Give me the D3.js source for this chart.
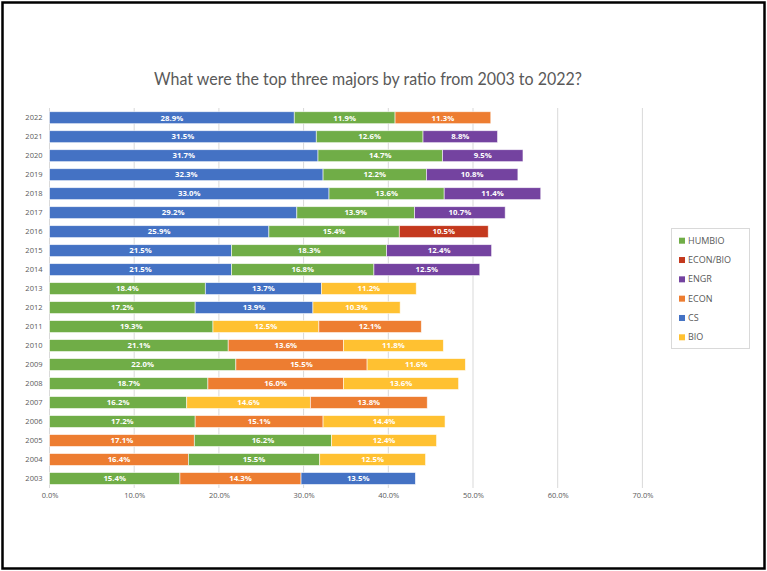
<!DOCTYPE html>
<html>
<head>
<meta charset="utf-8">
<script src="https://cdn.jsdelivr.net/npm/d3@7"></script>
<style>
html,body{margin:0;padding:0;background:#fff;}
svg{display:block;}
</style>
</head>
<body>
<svg id="chart" width="767" height="571"></svg>
<script>
const years = ["2022","2021","2020","2019","2018","2017","2016","2015","2014","2013","2012","2011","2010","2009","2008","2007","2006","2005","2004","2003"];
const firstMajor = ["CS","CS","CS","CS","CS","CS","CS","CS","CS","HUMBIO","HUMBIO","HUMBIO","HUMBIO","HUMBIO","HUMBIO","HUMBIO","HUMBIO","ECON","ECON","HUMBIO"];
const firstValue = [28.9,31.5,31.7,32.3,33.0,29.2,25.9,21.5,21.5,18.4,17.2,19.3,21.1,22.0,18.7,16.2,17.2,17.1,16.4,15.4];
const secondMajor = ["HUMBIO","HUMBIO","HUMBIO","HUMBIO","HUMBIO","HUMBIO","HUMBIO","HUMBIO","HUMBIO","CS","CS","BIO","ECON","ECON","ECON","BIO","ECON","HUMBIO","HUMBIO","ECON"];
const secondValue = [11.9,12.6,14.7,12.2,13.6,13.9,15.4,18.3,16.8,13.7,13.9,12.5,13.6,15.5,16.0,14.6,15.1,16.2,15.5,14.3];
const thirdMajor = ["ECON","ENGR","ENGR","ENGR","ENGR","ENGR","ECON/BIO","ENGR","ENGR","BIO","BIO","ECON","BIO","BIO","BIO","ECON","BIO","BIO","BIO","CS"];
const thirdValue = [11.3,8.8,9.5,10.8,11.4,10.7,10.5,12.4,12.5,11.2,10.3,12.1,11.8,11.6,13.6,13.8,14.4,12.4,12.5,13.5];
const legendMajors = ["HUMBIO","ECON/BIO","ENGR","ECON","CS","BIO"];
const majorColors = ["#70AD47","#C4391E","#7443A0","#ED7D31","#4472C4","#FFC131"];
const xTicks = [0,10,20,30,40,50,60,70];
const title = "What were the top three majors by ratio from 2003 to 2022?";

const svg = d3.select("#chart");
const color = d3.scaleOrdinal().domain(legendMajors).range(majorColors);

// frame
svg.append("rect").attr("x",2.5).attr("y",2.5).attr("width",762).attr("height",566)
  .attr("fill","#fff").attr("stroke","#000").attr("stroke-width",2.5);

const x = d3.scaleLinear().domain([0,70]).range([49.5, 642.4]);
const y = d3.scaleBand().domain(years).range([108.2, 488.0]).paddingInner(0.37).paddingOuter(0.185);

// title
svg.append("text").attr("x",368).attr("y",85).attr("text-anchor","middle")
  .attr("font-family","Lato, 'Open Sans', sans-serif").attr("font-size",16.5)
  .attr("fill","#595959").attr("textLength",428).attr("lengthAdjust","spacingAndGlyphs")
  .text(title);

// gridlines
svg.append("g").selectAll("line").data(xTicks.slice(1)).join("line")
  .attr("x1",d=>x(d)).attr("x2",d=>x(d)).attr("y1",108).attr("y2",488)
  .attr("stroke","#d9d9d9").attr("stroke-width",1);

// x axis labels
const xAxis = d3.axisBottom(x).tickValues(xTicks).tickFormat(d=>d.toFixed(1)+"%").tickSize(0);
const gx = svg.append("g").attr("transform","translate(0,490)").call(xAxis);
gx.select(".domain").remove();
gx.selectAll("text").attr("font-family","'Open Sans', sans-serif").attr("font-size",7.5).attr("fill","#595959");

// y axis (vertical axis line at 0)
svg.append("line").attr("x1",x(0)).attr("x2",x(0)).attr("y1",108).attr("y2",488).attr("stroke","#d9d9d9");
const yAxis = d3.axisLeft(y).tickSize(0).tickPadding(7);
const gy = svg.append("g").attr("transform",`translate(${x(0)},0)`).call(yAxis);
gy.select(".domain").remove();
gy.selectAll("text").attr("font-family","'Open Sans', sans-serif").attr("font-size",7.5).attr("fill","#595959");

// build segments
const segs = [];
years.forEach((yr,i)=>{
  const majors=[firstMajor[i],secondMajor[i],thirdMajor[i]];
  const vals=[firstValue[i],secondValue[i],thirdValue[i]];
  let acc=0;
  majors.forEach((m,k)=>{
    segs.push({year:yr,major:m,value:vals[k],x0:acc,x1:acc+vals[k]});
    acc+=vals[k];
  });
});

const bars = svg.append("g");
bars.selectAll("rect").data(segs).join("rect")
  .attr("x",d=>x(d.x0)).attr("width",d=>x(d.x1)-x(d.x0))
  .attr("y",d=>y(d.year)).attr("height",y.bandwidth())
  .attr("fill",d=>color(d.major))
  .attr("stroke","#ffffff").attr("stroke-opacity",0.7).attr("stroke-width",0.8);

bars.selectAll("text").data(segs).join("text")
  .attr("x",d=>(x(d.x0)+x(d.x1))/2).attr("y",d=>y(d.year)+y.bandwidth()/2)
  .attr("dy","0.36em").attr("text-anchor","middle")
  .attr("font-family","'Open Sans', sans-serif").attr("font-weight","bold").attr("font-size",7.8)
  .attr("fill","#fff").text(d=>d.value.toFixed(1)+"%");

// legend
const lg = svg.append("g");
lg.append("rect").attr("x",671.5).attr("y",228.5).attr("width",78).attr("height",120)
  .attr("fill","#fff").attr("stroke","#d9d9d9");
const li = lg.selectAll("g.item").data(legendMajors).join("g").attr("class","item")
  .attr("transform",(d,i)=>`translate(0,${240.7+i*19.32})`);
li.append("rect").attr("x",679).attr("y",-3).attr("width",6).attr("height",6).attr("fill",d=>color(d));
li.append("text").attr("x",688).attr("y",0).attr("dy","0.35em")
  .attr("font-family","'Open Sans', sans-serif").attr("font-size",9).attr("fill","#595959").text(d=>d);
</script>
</body>
</html>
